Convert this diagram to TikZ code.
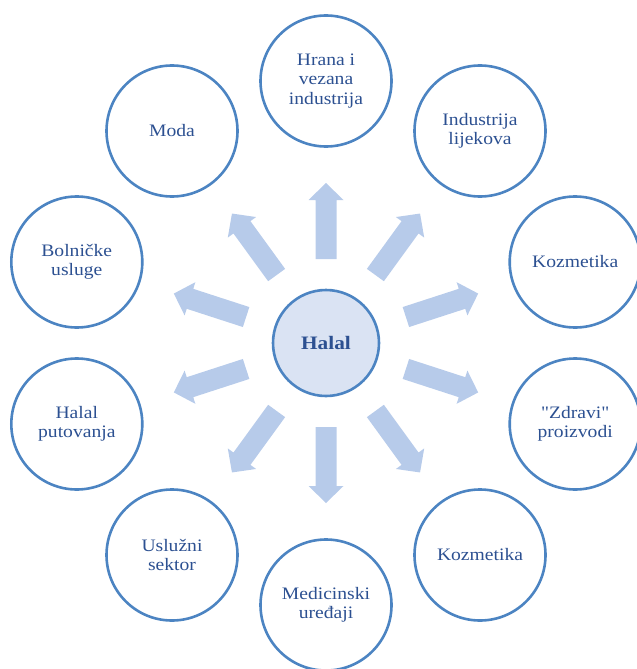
\documentclass[tikz,border=0pt]{standalone}
\usepackage{fontspec}
\setmainfont[FakeStretch=1.12,Ligatures=TeXOff]{Liberation Serif}
\definecolor{cstroke}{RGB}{76,132,194}
\definecolor{ctext}{RGB}{44,80,145}
\definecolor{carrow}{RGB}{183,203,234}
\definecolor{cfill}{RGB}{218,227,243}
\begin{document}
\begin{tikzpicture}[x=1bp,y=-1bp,
  outer/.style={circle,draw=cstroke,line width=2.6bp,minimum size=131bp,inner sep=0pt,align=center,text=ctext,font=\fontsize{17.5bp}{19.5bp}\selectfont},
  hub/.style={circle,draw=cstroke,fill=cfill,line width=2.6bp,minimum size=106bp,inner sep=0pt,text=ctext,font=\fontsize{19bp}{22bp}\selectfont\bfseries},
  blockarrow/.style={fill=carrow,draw=none}]
\useasboundingbox (0,0) rectangle (637,669);
\node[hub] (h) at (326,343) {Halal};
\foreach \a in {90,54,18,-18,-54,-90,-126,-162,162,126}{
  \begin{scope}[shift={(326,343)},rotate=\a]
    \fill[blockarrow] (84,-10.5) -- (143,-10.5) -- (143,-17.5) -- (160,0) -- (143,17.5) -- (143,10.5) -- (84,10.5) -- cycle;
  \end{scope}
}
\node[outer] (c1) at (326,81) {Hrana i\\vezana\\industrija};
\node[outer] (c2) at (480,131) {Industrija\\lijekova};
\node[outer] (c3) at (575.2,262) {Kozmetika};
\node[outer] (c4) at (575.2,424) {"Zdravi"\\proizvodi};
\node[outer] (c5) at (480,555) {Kozmetika};
\node[outer] (c6) at (326,605) {Medicinski\\uređaji};
\node[outer] (c7) at (172,555) {Uslužni\\sektor};
\node[outer] (c8) at (76.8,424) {Halal\\putovanja};
\node[outer] (c9) at (76.8,262) {Bolničke\\usluge};
\node[outer] (c10) at (172,131) {Moda};
\end{tikzpicture}
\end{document}
